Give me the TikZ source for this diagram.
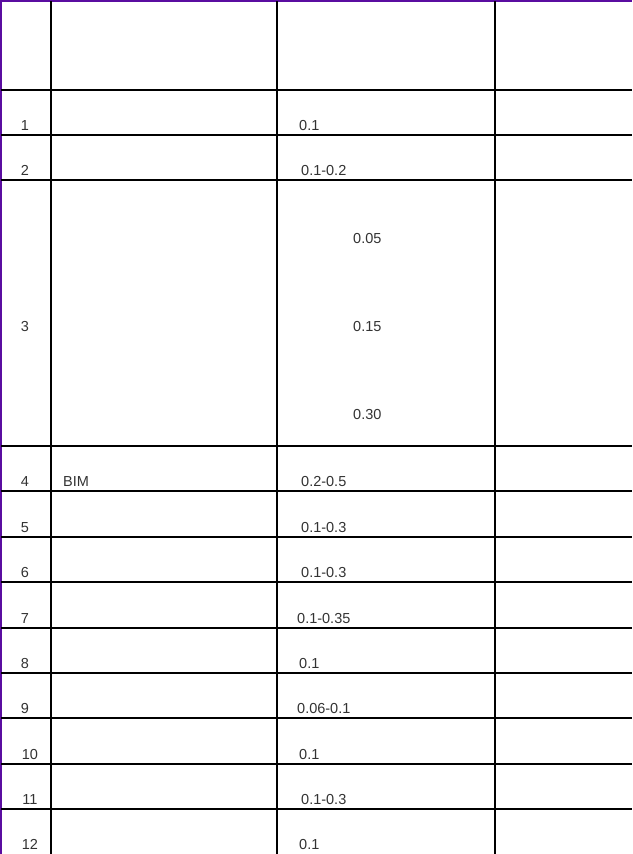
\documentclass[tikz,border=0pt]{standalone}
\usepackage{fontspec}
\setmainfont{Liberation Sans}
\usepackage{tikz}

\definecolor{edgepurple}{HTML}{5A0DA0}
\definecolor{celltext}{HTML}{333333}

\begin{document}
\begin{tikzpicture}[x=1pt,y=-1pt,
    num/.style={anchor=base,inner sep=0pt,text=celltext,font=\fontsize{14.5}{16}\selectfont},
    val/.style={anchor=base west,inner sep=0pt,text=celltext,font=\fontsize{14.5}{16}\selectfont}]
            \useasboundingbox (0,0) rectangle (632,854);
            \fill[white] (0,0) rectangle (632,854);
            \draw[edgepurple,line width=1.5pt] (0.9,0) --(0.9,854);
            \draw[edgepurple,line width=1.5pt] (0,0.9) --(632,0.9);
            \draw[line width=1.8pt] (51,1) --(51,854);
            \draw[line width=1.5pt] (277,1) --(277,854);
            \draw[line width=1.5pt] (495,1) --(495,854);
            \draw[line width=1.2pt] (1,90) --(632,90);
            \draw[line width=1.2pt] (1,135) --(632,135);
            \draw[line width=1.2pt] (1,180) --(632,180);
            \draw[line width=1.2pt] (1,446) --(632,446);
            \draw[line width=1.2pt] (1,491) --(632,491);
            \draw[line width=1.2pt] (1,537) --(632,537);
            \draw[line width=1.2pt] (1,582) --(632,582);
            \draw[line width=1.2pt] (1,628) --(632,628);
            \draw[line width=1.2pt] (1,673) --(632,673);
            \draw[line width=1.2pt] (1,718) --(632,718);
            \draw[line width=1.2pt] (1,764) --(632,764);
            \draw[line width=1.2pt] (1,809) --(632,809);
            % row numbers
            \node[num] (n1) at (25,130.5) {1};
            \node[num] (n2) at (25,175.5) {2};
            \node[num] (n3) at (25,331.5) {3};
            \node[num] (n4) at (25,486.5) {4};
            \node[num] (n5) at (25,532.5) {5};
            \node[num] (n6) at (25,577.5) {6};
            \node[num] (n7) at (25,623.5) {7};
            \node[num] (n8) at (25,668.5) {8};
            \node[num] (n9) at (25,713.5) {9};
            \node[num] (n10) at (30,759.5) {10};
            \node[num] (n11) at (30,804.5) {11};
            \node[num] (n12) at (30,849.5) {12};
            \node[val] (bim) at (63,486.5) {BIM};
            % values
            \node[val] (v1) at (299,130.5) {0.1};
            \node[val] (v2) at (301,175.5) {0.1-0.2};
            \node[val] (v3a) at (353,243.5) {0.05};
            \node[val] (v3b) at (353,331.5) {0.15};
            \node[val] (v3c) at (353,419.5) {0.30};
            \node[val] (v4) at (301,486.5) {0.2-0.5};
            \node[val] (v5) at (301,532.5) {0.1-0.3};
            \node[val] (v6) at (301,577.5) {0.1-0.3};
            \node[val] (v7) at (297,623.5) {0.1-0.35};
            \node[val] (v8) at (299,668.5) {0.1};
            \node[val] (v9) at (297,713.5) {0.06-0.1};
            \node[val] (v10) at (299,759.5) {0.1};
            \node[val] (v11) at (301,804.5) {0.1-0.3};
            \node[val] (v12) at (299,849.5) {0.1};
        \end{tikzpicture}
\end{document}
